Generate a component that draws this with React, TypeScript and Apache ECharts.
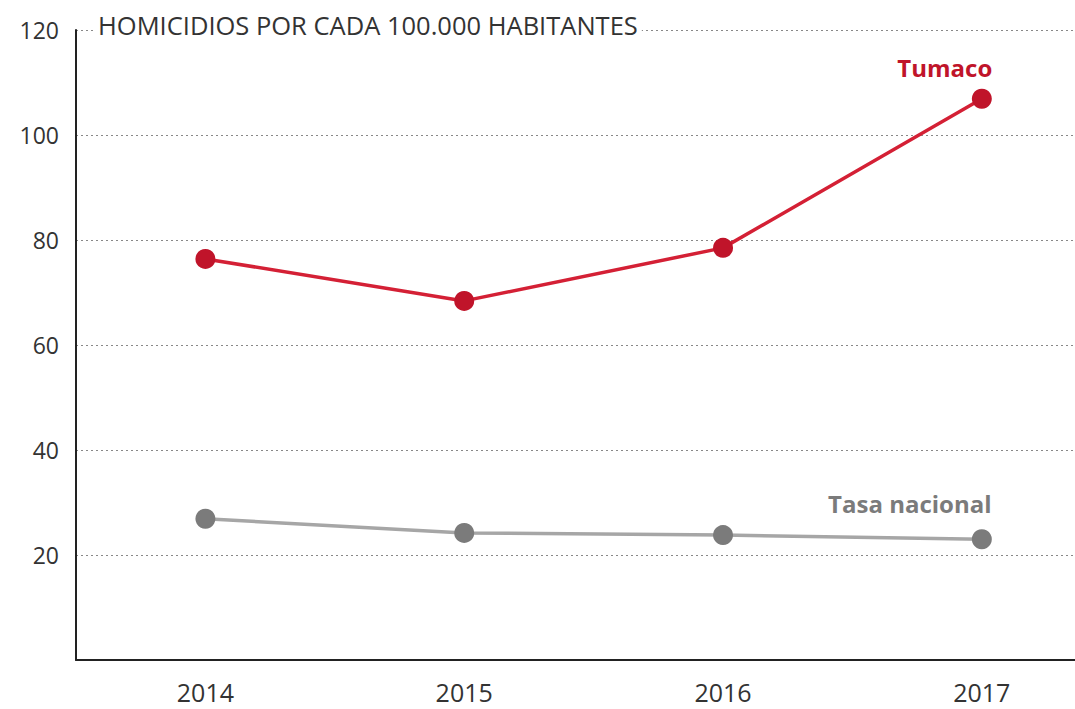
import React, { useEffect, useRef } from "react";
import * as echarts from "echarts";

const years = [2014, 2015, 2016, 2017];
const tumaco = [76.4, 68.4, 78.5, 106.9];
const nacional = [26.9, 24.2, 23.8, 23.0];
const yTicks = [0, 20, 40, 60, 80, 100, 120];
const titleText = "HOMICIDIOS POR CADA 100.000 HABITANTES";
const tumacoName = "Tumaco";
const nacionalName = "Tasa nacional";

export default function App() {
  const ref = useRef<HTMLDivElement>(null);
  useEffect(() => {
    if (!ref.current) return;
    const chart = echarts.init(ref.current, null, { renderer: "svg" });
    const font = "'Open Sans', 'Noto Sans', sans-serif";
    const mk = (vals: number[], name: string, lineColor: string, dotColor: string, labelOffset: number[]) =>
      ({
        type: "line",
        name,
        data: vals.map((v, i) =>
          i === vals.length - 1
            ? {
                value: [years[i], v],
                label: {
                  show: true,
                  formatter: name,
                  position: "top",
                  offset: labelOffset,
                  color: dotColor,
                  fontFamily: font,
                  fontWeight: "bold",
                  fontSize: 24,
                },
              }
            : { value: [years[i], v] }
        ),
        symbol: "circle",
        symbolSize: 20,
        lineStyle: { color: lineColor, width: 3.5 },
        itemStyle: { color: dotColor },
        z: 3,
      }) as any;
    chart.setOption({
      animation: false,
      grid: { left: 76, right: 0, top: 30, bottom: 49 },
      xAxis: {
        type: "value",
        min: 2013.5,
        max: 2017.36,
        axisLine: { show: true, onZero: false, lineStyle: { color: "#222", width: 2 } },
        axisTick: { show: false },
        splitLine: { show: false },
        axisLabel: {
          customValues: years,
          formatter: (v: number) => String(v),
          color: "#333",
          fontSize: 25,
          fontFamily: font,
          margin: 19,
        },
      },
      yAxis: {
        type: "value",
        min: yTicks[0],
        max: yTicks[yTicks.length - 1],
        interval: 20,
        axisLine: { show: true, lineStyle: { color: "#222", width: 2 } },
        axisTick: { show: false },
        axisLabel: {
          formatter: (v: number) => (v === 0 ? "" : String(v)),
          color: "#333",
          fontSize: 23,
          fontFamily: font,
          margin: 17,
        },
        splitLine: { show: true, lineStyle: { color: "#888", type: [2, 3], width: 1 } },
      },
      graphic: [
        {
          type: "text",
          left: 94,
          top: 12,
          z: 10,
          style: {
            text: titleText,
            fill: "#333",
            font: `25.5px ${font}`,
            backgroundColor: "#fff",
            padding: [0, 4],
          },
        },
      ],
      series: [
        mk(tumaco, tumacoName, "#d42035", "#c0142a", [-37, -4]),
        mk(nacional, nacionalName, "#a6a6a6", "#7b7b7b", [-72, -9]),
      ],
    });
    return () => chart.dispose();
  }, []);
  return (
    <div
      ref={ref}
      style={{ position: "fixed", left: 0, top: 0, width: 1075, height: 709, background: "#fff" }}
    />
  );
}
